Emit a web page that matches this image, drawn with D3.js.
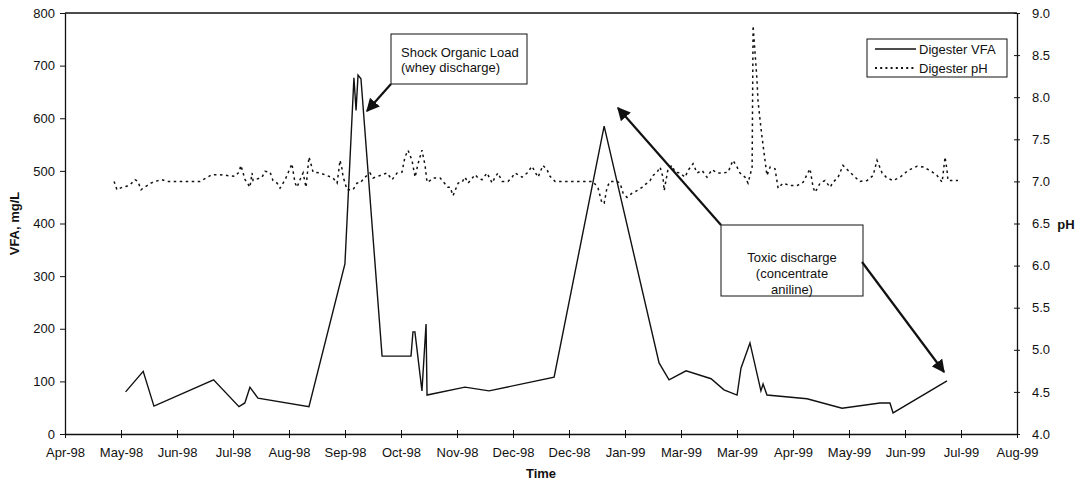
<!DOCTYPE html>
<html>
<head>
<meta charset="utf-8">
<script src="https://cdn.jsdelivr.net/npm/d3@7"></script>
<style>
body { margin: 0; background: #fff; }
text { font-family: "Liberation Sans", Arial, Helvetica, sans-serif; fill: #111; }
</style>
</head>
<body>
<div id="chart"></div>
<script>
// x values are days counted from 1 Apr 1998
var xTickLabels = ["Apr-98", "May-98", "Jun-98", "Jul-98", "Aug-98", "Sep-98", "Oct-98",
    "Nov-98", "Dec-98", "Dec-98", "Jan-99", "Mar-99", "Mar-99", "Apr-99", "May-99",
    "Jun-99", "Jul-99", "Aug-99"];
var vfaTicks = [0, 100, 200, 300, 400, 500, 600, 700, 800];
var phTicks = [4.0, 4.5, 5.0, 5.5, 6.0, 6.5, 7.0, 7.5, 8.0, 8.5, 9.0];

var vfaDay = [31, 40, 45.5, 76, 89, 92, 94.6, 98.7, 124.8, 143.2, 147.8, 148.9, 149.9, 151.4,
    162.2, 177, 178, 179, 182.6, 184.7, 185.2, 204.6, 216.9, 250.2, 275.8, 303.9, 309,
    317.7, 330.5, 337.1, 343.8, 345.8, 350.4, 356, 357.1, 359.1, 379.6, 397.5, 416.9,
    422, 423.6, 451.2];
var vfaValue = [80, 119, 53, 103, 52, 59, 89, 68, 52, 323, 677, 615, 682, 675,
    148, 148, 194, 194, 82, 209, 74, 89, 82, 108, 585, 135, 103,
    120, 105, 84, 74, 125, 173, 82, 95, 74, 67, 49, 59,
    59, 40, 101];

var phDay = [25.1, 26.6, 29.2, 31.2, 33.3, 35.8, 37.3, 38.9, 39.9, 42, 44, 46, 49.6, 52.2,
    69.1, 72.1, 75.2, 79.3, 82.9, 87, 89, 90, 92.1, 93.1, 94.6, 95.7, 96.2, 100.8, 102.3,
    104.9, 106.4, 108.5, 110, 112.6, 114.1, 116.1, 116.6, 117.7, 118.7, 120.2, 121.8,
    123.3, 124.8, 125.9, 126.9, 130.5, 134, 137.1, 139.2, 140.7, 141.7, 142.2, 144.3,
    147.3, 149.4, 150.9, 153.5, 156, 157.6, 161.2, 164.7, 167.3, 169.9, 172.4, 173.9,
    175.5, 177.5, 179.1, 180.6, 182.6, 184.2, 185.2, 186.7, 188.3, 191.9, 195.9,
    197, 198.5, 201.1, 203.1, 204.6, 206.2, 209.8, 211.3, 213.3, 215.9, 218.5, 220,
    221.5, 223.6, 226.6, 228.7, 230.2, 233.8, 236.4, 238.9, 240.5, 242, 244.5, 246.6,
    248.1, 250.7, 270.1, 272.7, 274.7, 275.8, 277.3, 278.8, 282.4, 283.9, 285.5, 287.5,
    290.1, 292.6, 295.2, 297.7, 299.3, 300.8, 302.9, 304.4, 305.9, 306.5, 308.5, 310.5,
    312.1, 314.6, 317.2, 318.7, 321.3, 323.3, 325.9, 328.4, 331, 333.6, 336.6, 339.2,
    341.7, 343.8, 345.3, 347.9, 349.4, 350.4, 351.5, 352, 354, 354.5, 355.6, 356.6,
    357.6, 358.1, 359.1, 360.7, 363.2, 364.8, 367.3, 370.9, 374.5, 377.6, 381.1, 382.7,
    383.7, 386.3, 388.8, 391.4, 392.9, 395.5, 398, 400.6, 404.2, 406.7, 410.3, 413.4,
    415.4, 418, 420.5, 423.6, 427.2, 431.3, 435.9, 439, 442.5, 446.1, 448.7, 450.2,
    451.2, 451.7, 454.3, 456.8];
var phValue = [7.00, 6.90, 6.93, 6.94, 6.96, 7.02, 7.00, 6.90, 6.92, 6.95, 6.98, 7.00, 7.02, 7.00,
    7.00, 7.04, 7.08, 7.08, 7.07, 7.06, 7.11, 7.19, 7.02, 6.99, 6.93, 7.10, 7.01, 7.05, 7.12,
    7.11, 7.01, 6.98, 6.92, 7.02, 7.10, 7.21, 7.13, 6.98, 6.93, 7.02, 7.10,
    6.93, 7.29, 7.20, 7.11, 7.10, 7.07, 7.04, 6.98, 7.25, 7.15, 7.06, 6.90,
    6.90, 6.98, 6.98, 7.05, 7.10, 7.04, 7.07, 7.10, 7.02, 7.10, 7.11, 7.29,
    7.37, 7.25, 7.05, 7.21, 7.37, 7.19, 6.99, 7.01, 7.04, 7.04, 6.93,
    6.93, 6.83, 6.98, 6.99, 7.05, 6.98, 7.08, 7.04, 7.02, 7.10, 6.98, 7.05,
    7.10, 7.00, 7.00, 7.05, 7.10, 7.05, 7.10, 7.18, 7.11, 7.05, 7.19, 7.14,
    7.06, 7.00, 7.00, 6.92, 6.74, 6.74, 6.93, 7.00, 7.00, 6.98, 6.86, 6.81,
    6.86, 6.89, 6.93, 6.98, 7.01, 7.07, 7.11, 7.17, 7.05, 6.89, 7.15, 7.19,
    7.11, 7.10, 7.05, 7.13, 7.21, 7.10, 7.13, 7.05, 7.14, 7.10, 7.10, 7.11,
    7.25, 7.17, 7.10, 7.05, 6.98, 7.07, 7.17, 8.85, 8.20, 7.96, 7.72, 7.52,
    7.34, 7.25, 7.07, 7.17, 7.15, 6.92, 6.98, 6.95, 6.95, 6.99, 7.15, 6.93,
    6.87, 6.98, 7.01, 6.93, 6.99, 7.05, 7.19, 7.13, 7.05, 7.00, 7.01, 7.07,
    7.25, 7.10, 7.04, 7.01, 7.05, 7.13, 7.18, 7.17, 7.13, 7.07, 6.99, 7.29,
    7.13, 7.01, 7.01, 7.01];

var totalDays = 487;

var w = 1084;
var h = 488;
var plotLeft = 65, plotRight = 1017, plotTop = 13, plotBottom = 434;

var svg = d3.select("#chart")
    .append("svg")
    .attr("width", w)
    .attr("height", h);

var defs = svg.append("defs");
defs.append("marker")
    .attr("id", "head")
    .attr("viewBox", "0 0 10 10")
    .attr("refX", 9)
    .attr("refY", 5)
    .attr("markerWidth", 6)
    .attr("markerHeight", 6)
    .attr("markerUnits", "strokeWidth")
    .attr("orient", "auto")
    .append("path")
    .attr("d", "M0,0 L10,5 L0,10 Z")
    .attr("fill", "#111");

var xScale = d3.scaleLinear().domain([0, totalDays]).range([plotLeft, plotRight]);
var yLeft = d3.scaleLinear().domain([0, 800]).range([plotBottom, plotTop]);
var yRight = d3.scaleLinear().domain([4, 9]).range([plotBottom, plotTop]);

var xTickValues = xTickLabels.map(function (d, i) { return i * totalDays / (xTickLabels.length - 1); });

// frame top
svg.append("line")
    .attr("x1", plotLeft).attr("x2", plotRight)
    .attr("y1", plotTop).attr("y2", plotTop)
    .attr("stroke", "#111").attr("stroke-width", 1.3);

var xAxis = d3.axisBottom(xScale)
    .tickValues(xTickValues)
    .tickFormat(function (d, i) { return xTickLabels[i]; })
    .tickSizeOuter(0);

var gx = svg.append("g")
    .attr("transform", "translate(0," + plotBottom + ")")
    .call(xAxis);
gx.selectAll(".tick line").attr("y1", -4).attr("y2", 4);
gx.selectAll(".tick text").attr("y", 14).style("font-size", "13px");

var gyl = svg.append("g")
    .attr("transform", "translate(" + plotLeft + ",0)")
    .call(d3.axisLeft(yLeft).tickValues(vfaTicks).tickSize(5).tickPadding(5).tickSizeOuter(0));
gyl.selectAll(".tick text").style("font-size", "13px");

var gyr = svg.append("g")
    .attr("transform", "translate(" + plotRight + ",0)")
    .call(d3.axisRight(yRight).tickValues(phTicks).tickFormat(d3.format(".1f")).tickSizeOuter(0));
gyr.selectAll(".tick line").attr("x1", -3).attr("x2", 3);
gyr.selectAll(".tick text").attr("x", 15).style("font-size", "13px");

svg.selectAll(".domain").attr("stroke", "#111").attr("stroke-width", 1.3);
svg.selectAll(".tick line").attr("stroke", "#111");
svg.selectAll(".tick text").attr("fill", "#111");

// axis titles
svg.append("text")
    .text("VFA, mg/L")
    .attr("transform", "translate(19," + ((plotTop + plotBottom) / 2) + ") rotate(-90)")
    .attr("text-anchor", "middle")
    .attr("font-weight", "bold")
    .style("font-size", "13px");

svg.append("text")
    .text("pH")
    .attr("x", 1066)
    .attr("y", (plotTop + plotBottom) / 2 + 5)
    .attr("text-anchor", "middle")
    .attr("font-weight", "bold")
    .style("font-size", "13px");

svg.append("text")
    .text("Time")
    .attr("x", (plotLeft + plotRight) / 2)
    .attr("y", 478)
    .attr("text-anchor", "middle")
    .attr("font-weight", "bold")
    .style("font-size", "13px");

// series
var vfaData = vfaDay.map(function (d, i) { return { x: d, y: vfaValue[i] }; });
var phData = phDay.map(function (d, i) { return { x: d, y: phValue[i] }; });

var vfaLine = d3.line()
    .x(function (d) { return xScale(d.x); })
    .y(function (d) { return yLeft(d.y); });
var phLine = d3.line()
    .x(function (d) { return xScale(d.x); })
    .y(function (d) { return yRight(d.y); });

svg.append("path")
    .datum(phData)
    .attr("d", phLine)
    .attr("fill", "none")
    .attr("stroke", "#111")
    .attr("stroke-width", 1.5)
    .attr("stroke-dasharray", "2.5,3.5");

svg.append("path")
    .datum(vfaData)
    .attr("d", vfaLine)
    .attr("fill", "none")
    .attr("stroke", "#111")
    .attr("stroke-width", 1.4);

// legend
var legend = svg.append("g").attr("transform", "translate(867,39)");
legend.append("rect")
    .attr("width", 140).attr("height", 38)
    .attr("fill", "#fff").attr("stroke", "#111").attr("stroke-width", 1);
legend.append("line")
    .attr("x1", 8).attr("x2", 49).attr("y1", 10).attr("y2", 10)
    .attr("stroke", "#111").attr("stroke-width", 1.3);
legend.append("line")
    .attr("x1", 8).attr("x2", 49).attr("y1", 29).attr("y2", 29)
    .attr("stroke", "#111").attr("stroke-width", 2)
    .attr("stroke-dasharray", "2,3.2");
legend.append("text").text("Digester VFA").attr("x", 52).attr("y", 14.5).style("font-size", "13px");
legend.append("text").text("Digester pH").attr("x", 52).attr("y", 33.5).style("font-size", "13px");

// annotations
var notes = svg.append("g");
notes.append("rect")
    .attr("x", 391).attr("y", 34).attr("width", 136).attr("height", 50)
    .attr("fill", "#fff").attr("stroke", "#111").attr("stroke-width", 1);
notes.append("text").text("Shock Organic Load").attr("x", 401).attr("y", 57).style("font-size", "13px");
notes.append("text").text("(whey discharge)").attr("x", 401).attr("y", 72).style("font-size", "13px");

notes.append("rect")
    .attr("x", 721).attr("y", 225).attr("width", 142).attr("height", 71)
    .attr("fill", "#fff").attr("stroke", "#111").attr("stroke-width", 1);
var toxic = ["Toxic discharge", "(concentrate", "aniline)"];
notes.selectAll("text.toxic")
    .data(toxic)
    .enter()
    .append("text")
    .attr("class", "toxic")
    .text(function (d) { return d; })
    .attr("x", 792)
    .attr("y", function (d, i) { return 262 + i * 16; })
    .attr("text-anchor", "middle")
    .style("font-size", "13px");

var arrows = [
    { x1: 391, y1: 84, x2: 367, y2: 111 },
    { x1: 721, y1: 225, x2: 618, y2: 108 },
    { x1: 862, y1: 262, x2: 944, y2: 372 }
];
notes.selectAll("line.arrow")
    .data(arrows)
    .enter()
    .append("line")
    .attr("class", "arrow")
    .attr("x1", function (d) { return d.x1; })
    .attr("y1", function (d) { return d.y1; })
    .attr("x2", function (d) { return d.x2; })
    .attr("y2", function (d) { return d.y2; })
    .attr("stroke", "#111")
    .attr("stroke-width", 2.2)
    .attr("marker-end", "url(#head)");
</script>
</body>
</html>
